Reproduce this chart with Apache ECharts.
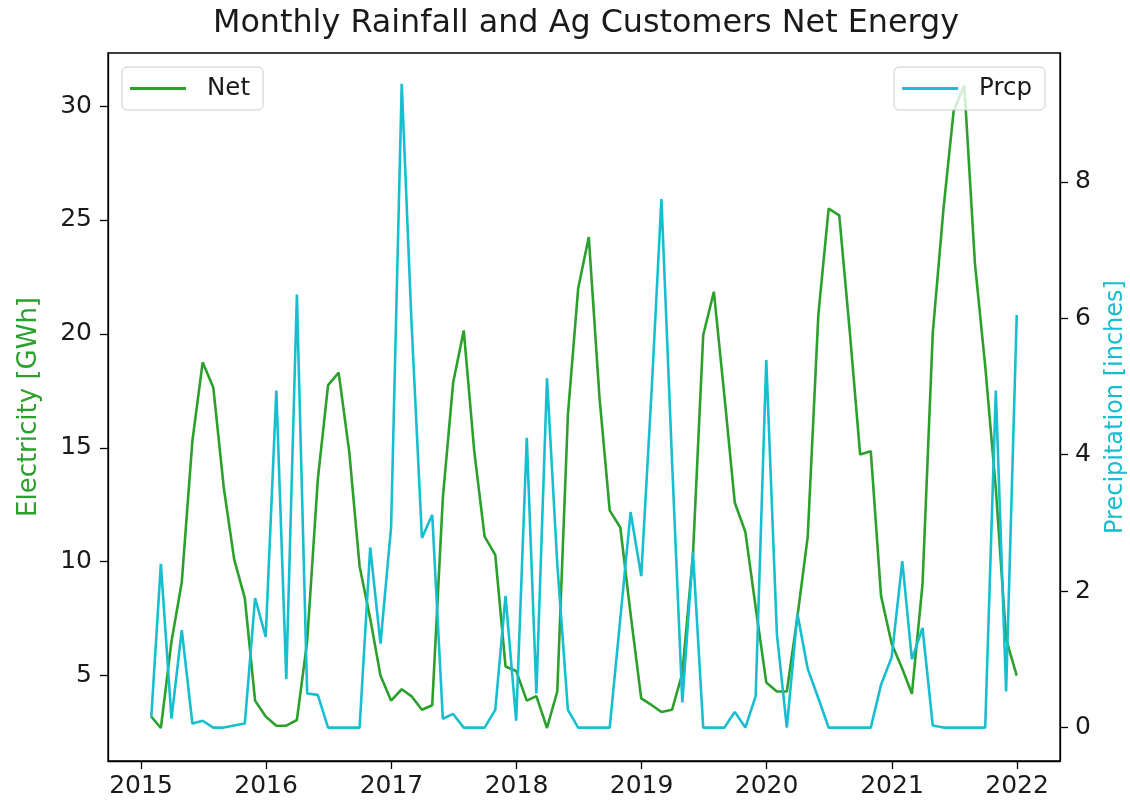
<!DOCTYPE html>
<html>
<head>
<meta charset="utf-8">
<script src="https://cdn.jsdelivr.net/npm/echarts@6/dist/echarts.min.js"></script>
<style>
html,body{margin:0;padding:0;background:#fff;}
#chart{width:1130px;height:807px;}
</style>
</head>
<body>
<div id="chart"></div>
<script>
// Month-end dates
const months = [
 '2015-01-31','2015-02-28','2015-03-31','2015-04-30','2015-05-31','2015-06-30','2015-07-31','2015-08-31','2015-09-30','2015-10-31','2015-11-30','2015-12-31',
 '2016-01-31','2016-02-29','2016-03-31','2016-04-30','2016-05-31','2016-06-30','2016-07-31','2016-08-31','2016-09-30','2016-10-31','2016-11-30','2016-12-31',
 '2017-01-31','2017-02-28','2017-03-31','2017-04-30','2017-05-31','2017-06-30','2017-07-31','2017-08-31','2017-09-30','2017-10-31','2017-11-30','2017-12-31',
 '2018-01-31','2018-02-28','2018-03-31','2018-04-30','2018-05-31','2018-06-30','2018-07-31','2018-08-31','2018-09-30','2018-10-31','2018-11-30','2018-12-31',
 '2019-01-31','2019-02-28','2019-03-31','2019-04-30','2019-05-31','2019-06-30','2019-07-31','2019-08-31','2019-09-30','2019-10-31','2019-11-30','2019-12-31',
 '2020-01-31','2020-02-29','2020-03-31','2020-04-30','2020-05-31','2020-06-30','2020-07-31','2020-08-31','2020-09-30','2020-10-31','2020-11-30','2020-12-31',
 '2021-01-31','2021-02-28','2021-03-31','2021-04-30','2021-05-31','2021-06-30','2021-07-31','2021-08-31','2021-09-30','2021-10-31','2021-11-30','2021-12-31'
];
// Ag customers net energy (GWh)
const net = [
 3.2, 2.7, 6.5, 9.1, 15.3, 18.75, 17.65, 13.2, 10.1, 8.4, 3.9, 3.2,
 2.8, 2.8, 3.05, 6.5, 13.6, 17.75, 18.3, 14.8, 9.8, 7.5, 5.0, 3.9,
 4.4, 4.1, 3.5, 3.7, 12.8, 17.85, 20.15, 14.8, 11.1, 10.3, 5.4, 5.2,
 3.9, 4.1, 2.7, 4.3, 16.45, 22.0, 24.25, 17.25, 12.25, 11.5, 7.7, 4.0,
 3.7, 3.4, 3.5, 5.1, 10.3, 19.95, 21.85, 17.25, 12.6, 11.3, 8.0, 4.7,
 4.3, 4.3, 7.6, 11.1, 20.85, 25.5, 25.2, 20.05, 14.7, 14.85, 8.5, 6.4,
 5.3, 4.2, 9.0, 20.05, 25.45, 29.8, 30.9, 23.1, 18.6, 13.2, 6.6, 5.0
];
// Monthly precipitation (inches)
const prcp = [
 0.15, 2.4, 0.13, 1.43, 0.06, 0.1, 0, 0, 0.03, 0.06, 1.9, 1.33,
 4.94, 0.71, 6.35, 0.5, 0.48, 0, 0, 0, 0, 2.64, 1.23, 2.94,
 9.44, 6.0, 2.78, 3.12, 0.13, 0.2, 0, 0, 0, 0.26, 1.93, 0.1,
 4.25, 0.5, 5.12, 2.4, 0.26, 0, 0, 0, 0, 1.6, 3.16, 2.22,
 5.0, 7.75, 3.9, 0.37, 2.57, 0, 0, 0, 0.23, 0, 0.46, 5.39,
 1.37, 0, 1.67, 0.86, 0.43, 0, 0, 0, 0, 0, 0.63, 1.03,
 2.44, 1.0, 1.46, 0.03, 0, 0, 0, 0, 0, 4.94, 0.53, 6.05
];
const yearTicks = [2015, 2016, 2017, 2018, 2019, 2020, 2021, 2022];
const leftTicks = [5, 10, 15, 20, 25, 30];
const rightTicks = [0, 2, 4, 6, 8];

const FONT = 'DejaVu Sans';
const GREEN = '#2ca02c';
const CYAN = '#17becf';
const TXT = '#1a1a1a';

const toTs = s => { const p = s.split('-').map(Number); return Date.UTC(p[0], p[1]-1, p[2]); };
const t0 = toTs(months[0]), t1 = toTs(months[months.length-1]);
const span = t1 - t0;
const yearTs = yearTicks.map(y => Date.UTC(y, 0, 1));

const chart = echarts.init(document.getElementById('chart'), null, {renderer: 'canvas'});
const legendBase = {
  orient: 'horizontal', selectedMode: false,
  padding: [9, 13, 9, 8],
  itemWidth: 56, itemHeight: 3, icon: 'rect',
  borderColor: '#cccccc', borderWidth: 1, borderRadius: 5,
  backgroundColor: 'rgba(255,255,255,0.8)',
  textStyle: {fontFamily: FONT, fontSize: 24.5, color: TXT, padding: [0, 0, 0, 16]}
};
chart.setOption({
  animation: false,
  backgroundColor: '#fff',
  title: {
    text: 'Monthly Rainfall and Ag Customers Net Energy',
    left: 581, top: 3, textAlign: 'center',
    textStyle: {fontFamily: FONT, fontSize: 31.8, fontWeight: 'normal', color: TXT}
  },
  legend: [
    Object.assign({}, legendBase, {data: ['Net'], left: 122, top: 67}),
    Object.assign({}, legendBase, {data: ['Prcp'], right: 85, top: 67})
  ],
  grid: {left: 108, right: 70, top: 53, bottom: 46, containLabel: false, outerBoundsMode: 'none',
         show: true, borderColor: '#000', borderWidth: 1.3, backgroundColor: 'transparent'},
  xAxis: {
    type: 'value',
    min: t0 - 0.05 * span, max: t1 + 0.05 * span,
    axisLine: {show: true, onZero: false, lineStyle: {color: '#000', width: 1.3}},
    axisTick: {show: true, length: 8, customValues: yearTs, lineStyle: {color: '#000', width: 1.3}},
    axisLabel: {
      customValues: yearTs, margin: 13, fontFamily: FONT, fontSize: 25, color: TXT,
      formatter: v => String(new Date(v).getUTCFullYear())
    },
    splitLine: {show: false}
  },
  yAxis: [
    {
      type: 'value', position: 'left', min: 1.25, max: 32.33,
      name: 'Electricity [GWh]', nameLocation: 'middle', nameGap: 66,
      nameTextStyle: {color: GREEN, fontFamily: FONT, fontSize: 26},
      axisLine: {show: true, lineStyle: {color: '#000', width: 1.3}},
      axisTick: {show: true, length: 8, customValues: leftTicks, lineStyle: {color: '#000', width: 1.3}},
      axisLabel: {customValues: leftTicks, margin: 16, fontFamily: FONT, fontSize: 25, color: TXT},
      splitLine: {show: false}
    },
    {
      type: 'value', position: 'right', min: -0.49, max: 9.89,
      name: 'Precipitation [inches]', nameLocation: 'middle', nameGap: 44,
      nameTextStyle: {color: CYAN, fontFamily: FONT, fontSize: 24},
      axisLine: {show: true, onZero: false, lineStyle: {color: '#000', width: 1.3}},
      axisTick: {show: true, length: 8, customValues: rightTicks, lineStyle: {color: '#000', width: 1.3}},
      axisLabel: {customValues: rightTicks, margin: 15, fontFamily: FONT, fontSize: 25, color: TXT},
      splitLine: {show: false}
    }
  ],
  series: [
    {
      name: 'Net', type: 'line', yAxisIndex: 0, showSymbol: false, symbol: 'none',
      lineStyle: {color: GREEN, width: 2.6}, itemStyle: {color: GREEN},
      data: months.map((d, i) => [toTs(d), net[i]])
    },
    {
      name: 'Prcp', type: 'line', yAxisIndex: 1, showSymbol: false, symbol: 'none',
      lineStyle: {color: CYAN, width: 2.6}, itemStyle: {color: CYAN},
      data: months.map((d, i) => [toTs(d), prcp[i]])
    }
  ]
});
</script>
</body>
</html>
